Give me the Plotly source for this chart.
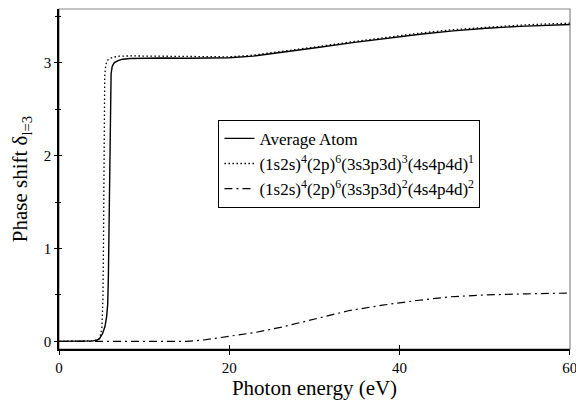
import plotly.graph_objects as go

# Average Atom (solid)
e_avg = [0, 3.0, 4.0, 4.5, 4.8, 5.1, 5.4, 5.6, 5.72, 5.8, 5.86, 5.92, 5.98, 6.04, 6.12, 6.25, 6.5, 7.0, 7.5, 8.3,
         10, 12, 15, 18, 20, 22.8, 26.7, 30.6, 34.5, 38.4, 42.4, 46.3, 50.2, 54.1, 57, 60]
d_avg = [0, 0.0, 0.005, 0.015, 0.035, 0.08, 0.16, 0.27, 0.40, 0.7, 1.2, 1.8, 2.35, 2.70, 2.88, 2.96, 3.00, 3.025, 3.037, 3.045,
         3.05, 3.05, 3.047, 3.048, 3.053, 3.07, 3.115, 3.165, 3.215, 3.26, 3.305, 3.342, 3.37, 3.39, 3.40, 3.41]

# (1s2s)^4(2p)^6(3s3p3d)^3(4s4p4d)^1 (dotted)
e_c1 = [0, 3.0, 4.0, 4.5, 4.8, 5.04, 5.16, 5.22, 5.26, 5.30, 5.37, 5.45, 5.55, 5.75, 5.96, 6.5, 7.1, 8.5,
        10, 12, 15, 18, 20, 22.8, 26.7, 30.6, 34.5, 38.4, 42.4, 46.3, 50.2, 54.1, 57, 60]
d_c1 = [0, 0.0, 0.006, 0.015, 0.03, 0.15, 0.45, 1.0, 1.8, 2.5, 2.85, 2.94, 2.99, 3.03, 3.045, 3.06, 3.07, 3.072,
        3.07, 3.068, 3.062, 3.06, 3.062, 3.08, 3.125, 3.175, 3.225, 3.272, 3.318, 3.355, 3.383, 3.403, 3.415, 3.425]

# (1s2s)^4(2p)^6(3s3p3d)^2(4s4p4d)^2 (dash-dot)
e_c2 = [0, 3, 5, 8, 11, 13, 15, 17, 20, 23, 26, 30, 34, 38, 42, 46, 50, 55, 60]
d_c2 = [0, 0, 0, -0.005, -0.006, -0.004, 0.0, 0.015, 0.052, 0.095, 0.15, 0.24, 0.33, 0.39, 0.44, 0.48, 0.50, 0.512, 0.52]

names = ["Average Atom",
         "(1s2s)<sup>4</sup>(2p)<sup>6</sup>(3s3p3d)<sup>3</sup>(4s4p4d)<sup>1</sup>",
         "(1s2s)<sup>4</sup>(2p)<sup>6</sup>(3s3p3d)<sup>2</sup>(4s4p4d)<sup>2</sup>"]

x_ticks = [0, 20, 40, 60]
y_ticks = [0, 1, 2, 3]
y_minor = [0.5, 1.5, 2.5, 3.5]

FONT = "Liberation Serif"

fig = go.Figure()
fig.add_trace(go.Scatter(x=e_avg, y=d_avg, mode="lines", name=names[0],
                         line=dict(color="black", width=1.4)))
fig.add_trace(go.Scatter(x=e_c1, y=d_c1, mode="lines", name=names[1],
                         line=dict(color="black", width=1.3, dash="1.5px,2.5px")))
fig.add_trace(go.Scatter(x=e_c2, y=d_c2, mode="lines", name=names[2],
                         line=dict(color="black", width=1.2, dash="8px,4px,2px,4px")))
fig.add_trace(go.Scatter(x=[0], y=[0], xaxis="x2", yaxis="y2", mode="markers",
                         marker=dict(opacity=0), showlegend=False, hoverinfo="skip"))

xr = [0, 60.02]
yr = [-0.082, 3.577]

fig.update_layout(
    template="none",
    width=576, height=401,
    margin=dict(l=59, r=6, t=9, b=52, autoexpand=False),
    paper_bgcolor="white", plot_bgcolor="white",
    font=dict(family=FONT, color="black", size=15),
    showlegend=True,
    legend=dict(x=0.312, y=0.674, xanchor="left", yanchor="top",
                bordercolor="black", borderwidth=1, bgcolor="white",
                font=dict(family=FONT, size=17), itemwidth=30,
                tracegroupgap=0),
    xaxis=dict(range=xr, tickvals=x_ticks, ticks="outside", ticklen=4, tickwidth=1,
               tickcolor="black", showgrid=False, zeroline=False, automargin=False,
               showline=True, linecolor="black", linewidth=1.5,
               ticklabeloverflow="allow",
               tickfont=dict(family=FONT, size=15),
               title=dict(text="Photon energy (eV)", font=dict(family=FONT, size=21), standoff=5)),
    yaxis=dict(range=yr, tickvals=y_ticks, ticks="outside", ticklen=3, tickwidth=1,
               tickcolor="black", showgrid=False, zeroline=False, automargin=False,
               showline=True, linecolor="black", linewidth=1.5,
               minor=dict(tickvals=y_minor, ticks="outside", ticklen=2, tickcolor="black"),
               tickfont=dict(family=FONT, size=15),
               title=dict(text="Phase shift δ<sub>l=3</sub>", font=dict(family=FONT, size=21), standoff=10)),
    xaxis2=dict(range=xr, overlaying="x", anchor="y2", tickvals=x_ticks, ticks="inside", ticklen=4,
                tickcolor="black", showticklabels=False, showgrid=False, zeroline=False, showline=False),
    yaxis2=dict(range=yr, overlaying="y", anchor="x2", tickvals=y_ticks, ticks="inside", ticklen=3,
                tickcolor="black", showticklabels=False, showgrid=False, zeroline=False, showline=False,
                minor=dict(tickvals=y_minor, ticks="inside", ticklen=2, tickcolor="black")),
    shapes=[dict(type="rect", xref="paper", yref="paper", x0=0, x1=1, y0=0, y1=1,
                 line=dict(color="#888888", width=1.2), layer="below")],
)

fig.write_html("out.html")
